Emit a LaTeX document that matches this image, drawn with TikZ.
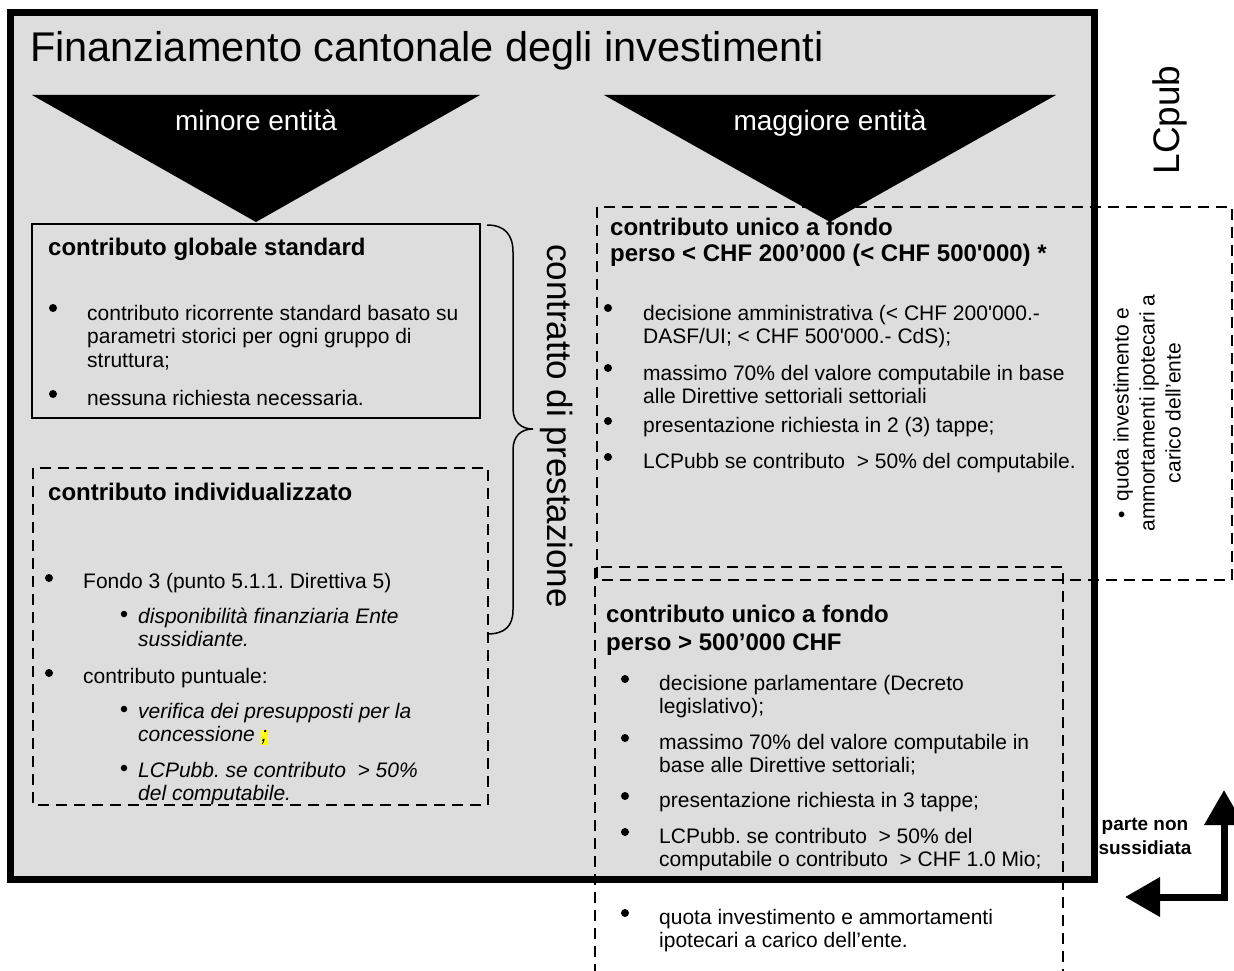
\documentclass[tikz,border=0pt]{standalone}
\usepackage{fontspec}
\setmainfont{Liberation Sans}[Ligatures=TeXOff]
\usetikzlibrary{arrows.meta}
\definecolor{panel}{RGB}{221,221,221}
\definecolor{marker}{RGB}{255,255,0}
\frenchspacing

\begin{document}
\begin{tikzpicture}[x=1pt, y=-1pt, >={Triangle[length=35pt, width=38pt]}]
  \tikzstyle{maintitle} = [anchor=base west, inner sep=0pt, font=\fontsize{41.5}{49}\selectfont]
  \tikzstyle{wedge} = [white, anchor=base, inner sep=0pt, font=\fontsize{28}{33}\selectfont]
  \tikzstyle{head} = [anchor=base west, inner sep=0pt, font=\fontsize{24}{27}\selectfont\bfseries]
  \tikzstyle{txt} = [anchor=base west, inner sep=0pt, font=\fontsize{21}{23.5}\selectfont]
  \tikzstyle{para} = [anchor=north west, inner sep=0pt, align=left, font=\fontsize{21}{23.5}\selectfont]
  \tikzstyle{itpara} = [para, font=\fontsize{21}{23.5}\selectfont\itshape]
  \tikzstyle{dot} = [fill, circle, inner sep=0pt, minimum size=8pt]
  \tikzstyle{subdot} = [fill, circle, inner sep=0pt, minimum size=6.5pt]
  \tikzstyle{dashbox} = [line width=2.5pt, dash pattern=on 11pt off 7pt]
  \tikzstyle{side} = [rotate=90, inner sep=0pt]
  \useasboundingbox (0,0) rectangle (1234,971);

  \draw[fill=panel, line width=7pt] (10,13) rectangle (1094,879);
  \node[maintitle] (title) at (30,62) {Finanziamento cantonale degli investimenti};
  \node[side, font=\fontsize{37}{44}\selectfont] (lcpub) at (1170,120) {LCpub};

  \draw[line width=2.5pt] (32,224) rectangle (480,418);
  \node[head] (globalhead) at (48,255) {contributo globale standard};
  \node[dot] (g1) at (53,308) {};
  \node[para] (g1txt) at (87,303.5) {\strut contributo ricorrente standard basato su\\parametri storici per ogni gruppo di\\struttura;};
  \node[dot] (g2) at (53,394) {};
  \node[txt] (g2txt) at (87,405) {nessuna richiesta necessaria.};

  \draw[dashbox] (33,468) rectangle (488,805);
  \node[head] (indivhead) at (48,500) {contributo individualizzato};
  \node[dot] (i1) at (49,578) {};
  \node[txt] (i1txt) at (83,588) {Fondo 3 (punto 5.1.1. Direttiva 5)};
  \node[subdot] (i11) at (124,614) {};
  \node[itpara] (i11txt) at (138,606.5) {\strut disponibilità finanziaria Ente\\sussidiante.};
  \node[dot] (i2) at (49,673) {};
  \node[txt] (i2txt) at (83,683) {contributo puntuale:};
  \node[subdot] (i21) at (124,709) {};
  \node[itpara] (i21txt) at (138,701.5) {\strut verifica dei presupposti per la\\concessione {\setlength{\fboxsep}{0.5pt}\colorbox{marker}{;}}};
  \node[subdot] (i22) at (124,768) {};
  \node[itpara] (i22txt) at (138,760.5) {\strut LCPubb. se contributo~ > 50\%\\del computabile.};

  \draw[line width=1.5pt] (487,225) .. controls (505,225) and (513,235) .. (513,252) -- (513,408)
    .. controls (513,422) and (521,429) .. (533,429) .. controls (521,429) and (513,436) .. (513,450)
    -- (513,610) .. controls (513,626) and (505,634) .. (487,634);
  \node[rotate=-90, font=\fontsize{35}{41}\selectfont] (contract) at (557,426) {contratto di prestazione};

  \draw[dashbox] (597,207) rectangle (1232,580);
  \node[head] (smallhead) at (610,235) {contributo unico a fondo};
  \node[head] (smallhead2) at (610,261) {perso < CHF 200’000 (< CHF 500'000) *};
  \node[dot] (a1) at (608,308) {};
  \node[para] (a1txt) at (643,303.5) {\strut decisione amministrativa (< CHF 200'000.-\\DASF/UI; < CHF 500'000.- CdS);};
  \node[dot] (a2) at (608,368) {};
  \node[para] (a2txt) at (643,363.5) {\strut massimo 70\% del valore computabile in base\\alle Direttive settoriali settoriali};
  \node[dot] (a3) at (608,421) {};
  \node[txt] (a3txt) at (643,432) {presentazione richiesta in 2 (3) tappe;};
  \node[dot] (a4) at (608,457) {};
  \node[txt] (a4txt) at (643,468) {LCPubb se contributo~ > 50\% del computabile.};
  \node[side, align=center, font=\fontsize{21}{26}\selectfont] (share) at (1147,413) {•\hspace{10pt}quota investimento e\\ammortamenti ipotecari a\\carico dell’ente};

  \draw[dashbox] (595,975) -- (595,567) -- (1063,567) -- (1063,975);
  \node[head] (bighead) at (606,622) {contributo unico a fondo};
  \node[head] (bighead2) at (606,650) {perso > 500’000 CHF};
  \node[dot] (b1) at (625,679) {};
  \node[para] (b1txt) at (659,673.5) {\strut decisione parlamentare (Decreto\\legislativo);};
  \node[dot] (b2) at (625,738) {};
  \node[para] (b2txt) at (659,732.5) {\strut massimo 70\% del valore computabile in\\base alle Direttive settoriali;};
  \node[dot] (b3) at (625,796) {};
  \node[txt] (b3txt) at (659,807) {presentazione richiesta in 3 tappe;};
  \node[dot] (b4) at (625,832) {};
  \node[para] (b4txt) at (659,826.5) {\strut LCPubb. se contributo~ > 50\% del\\computabile o contributo~ > CHF 1.0 Mio;};
  \node[dot] (b5) at (625,913) {};
  \node[para] (b5txt) at (659,907.5) {\strut quota investimento e ammortamenti\\ipotecari a carico dell’ente.};

  \node[align=center, font=\fontsize{19}{24}\selectfont\bfseries] (nonsub) at (1145,836) {parte non\\sussidiata};
  \coordinate (bend) at (1224,897);
  \coordinate (uptip) at (1224,790);
  \coordinate (lefttip) at (1125,897);
  \draw[<->, line width=7pt] (uptip) -- (bend) -- (lefttip);

  \fill (32,95) -- (480,95) -- (256,222) -- cycle;
  \node[wedge] (minor) at (256,131) {minore entità};
  \fill (604,95) -- (1056,95) -- (830,222) -- cycle;
  \node[wedge] (major) at (830,131) {maggiore entità};
\end{tikzpicture}
\end{document}
